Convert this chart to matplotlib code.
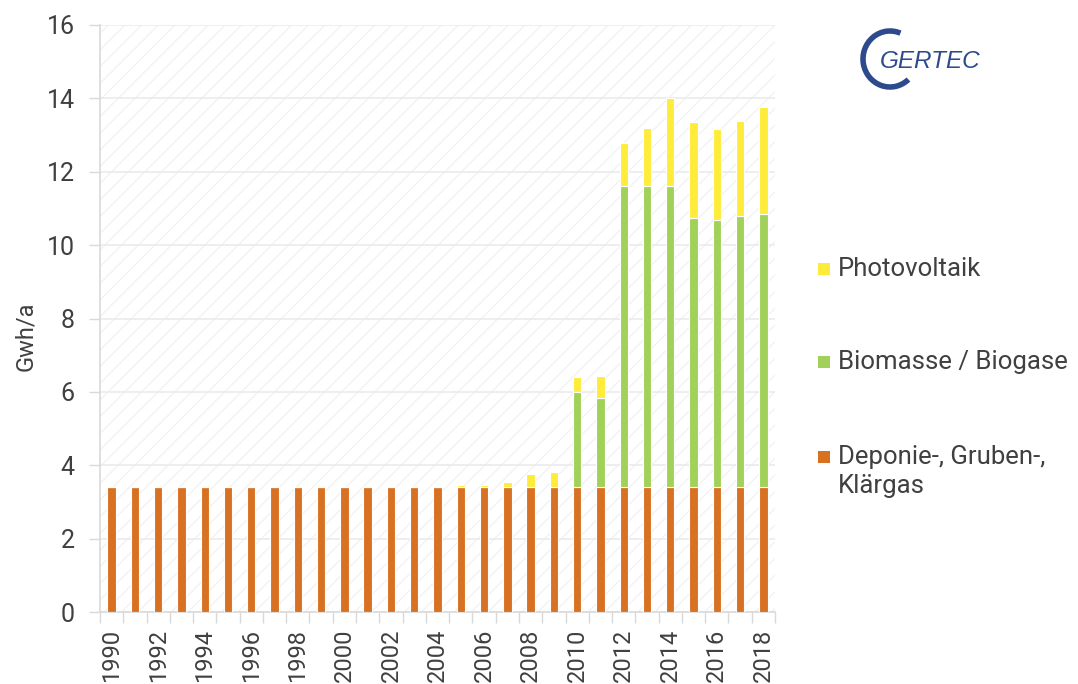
import matplotlib
matplotlib.use("Agg")
import matplotlib.pyplot as plt
from matplotlib.patches import Rectangle, Arc
import numpy as np

# Daten (Gwh/a)
jahre = list(range(1990, 2019))
deponie = [3.4] * 29
biomasse = [0.0] * 20 + [2.59, 2.44, 8.2, 8.2, 8.2, 7.34, 7.28, 7.4, 7.44]
photovoltaik = ([0.0] * 12 + [0.02, 0.02, 0.04, 0.05, 0.06, 0.15, 0.36, 0.42,
                              0.42, 0.6, 1.19, 1.59, 2.4, 2.62, 2.48, 2.59, 2.93])

reihen = ["Deponie-, Gruben-,\nKlärgas", "Biomasse / Biogase", "Photovoltaik"]
farben = ["#d87222", "#a2d15a", "#ffec3a"]
textfarbe = "#404040"

plt.rcParams["font.family"] = ["Roboto", "Liberation Sans", "DejaVu Sans"]
plt.rcParams["hatch.linewidth"] = 0.8
plt.rcParams["hatch.color"] = "#f0f0f0"

fig = plt.figure(figsize=(10.78, 6.84), dpi=100)
ax = fig.add_axes([100 / 1078, 72 / 684, 675 / 1078, 587 / 684])

# schraffierter Hintergrund
ax.add_patch(Rectangle((0, 0), 1, 1, transform=ax.transAxes, facecolor="white",
                       edgecolor="#f0f0f0", hatch="//", linewidth=0, zorder=0))

x = np.arange(len(jahre))
b = 0.36
unten = np.zeros(len(jahre))
for werte, farbe in zip([deponie, biomasse, photovoltaik], farben):
    ax.bar(x, werte, b, bottom=unten, color=farbe, edgecolor="white", linewidth=0.8, zorder=3)
    unten = unten + np.array(werte)

ax.set_ylim(0, 16)
ax.set_xlim(-0.5, 28.5)
ax.set_yticks(range(0, 17, 2))
ax.yaxis.grid(True, color="#ebebeb", linewidth=1.2, zorder=1)
ax.set_axisbelow(True)

ax.set_xticks(x[::2])
ax.set_xticklabels([str(j) for j in jahre[::2]], rotation=90, fontsize=17, color=textfarbe)
ax.set_xticks(np.arange(-0.5, 29, 1), minor=True)
ax.tick_params(axis="x", which="major", length=0, pad=12)
ax.tick_params(axis="x", which="minor", length=8, color="#d9d9d9", width=1)
ax.tick_params(axis="y", length=8, color="#d9d9d9", width=1, labelsize=18, labelcolor=textfarbe, pad=10)

for s in ["top", "right"]:
    ax.spines[s].set_visible(False)
for s in ["left", "bottom"]:
    ax.spines[s].set_color("#d9d9d9")
    ax.spines[s].set_linewidth(1.2)

ax.set_ylabel("Gwh/a", fontsize=17, color=textfarbe)
ax.yaxis.set_label_coords(-0.093, 0.47)

# Legende (von oben nach unten: Photovoltaik, Biomasse, Deponie)
leg_y = [269, 362, 457]
for name, farbe, yy in zip(reihen[::-1], farben[::-1], leg_y):
    fig.add_artist(Rectangle((818 / 1078, 1 - (yy + 6) / 684), 12 / 1078, 12 / 684,
                             transform=fig.transFigure, facecolor=farbe, edgecolor="none"))
    fig.text(838 / 1078, 1 - (yy - 12) / 684, name, fontsize=18.5, color=textfarbe,
             va="top", ha="left", linespacing=1.25)

# Logo
fig.patches.append(Arc((890, 684 - 59), 54, 56, theta1=68, theta2=312,
                       transform=None, color="#2c4a8c", linewidth=4))
fig.text(880 / 1078, 1 - 61 / 684, "GERTEC", fontsize=17.5, style="italic",
         color="#2c4a8c", va="center", ha="left", family=["Liberation Sans"])

fig.savefig("out.png", dpi=100)
